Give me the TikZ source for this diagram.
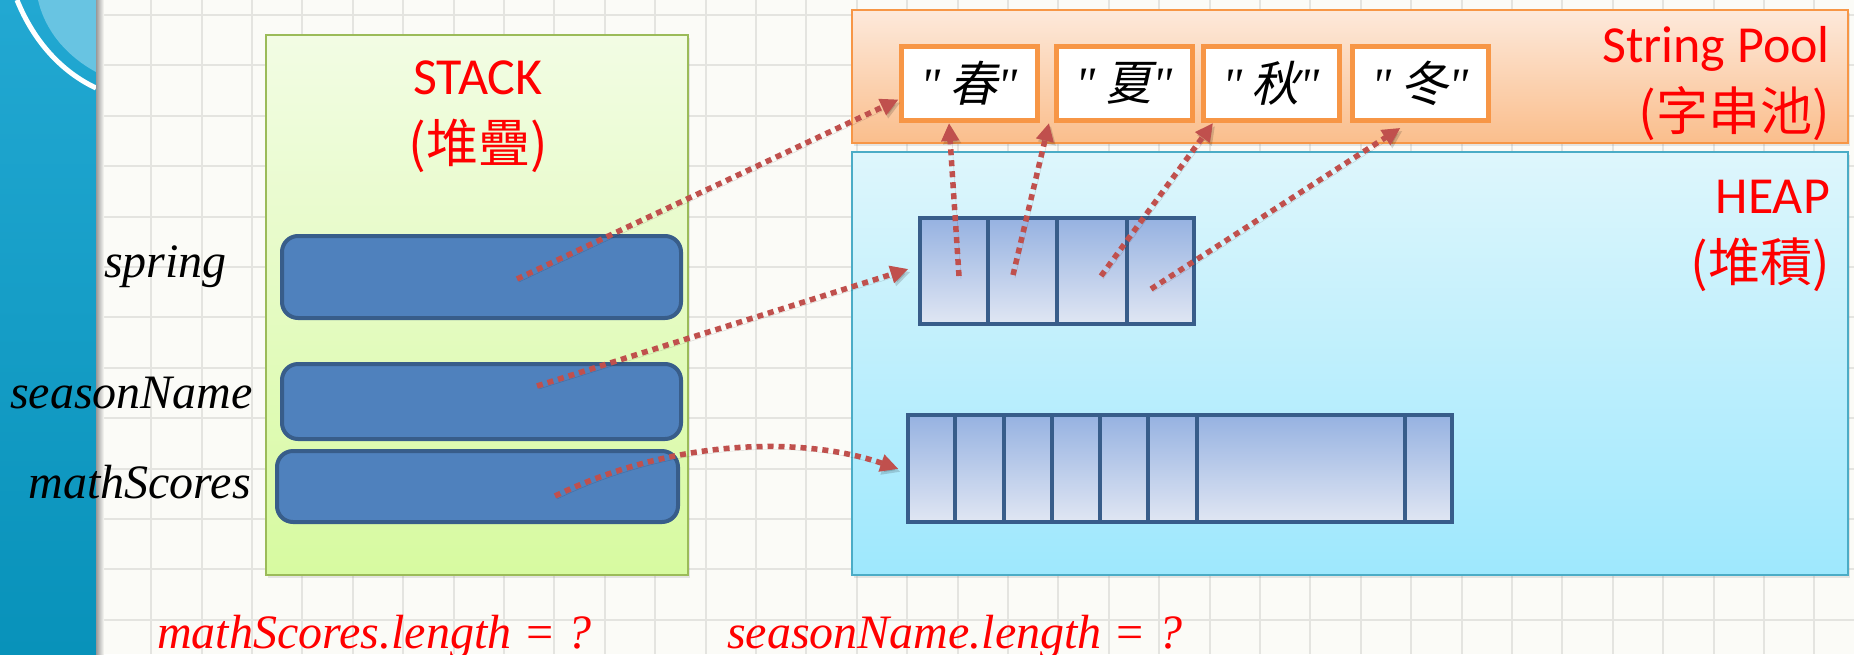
\documentclass[tikz,border=0pt]{standalone}
\usepackage{fontspec}
\setmainfont{Liberation Serif}
\newfontfamily\labelfont{Carlito}
\newfontfamily\quotefont[Ligatures=ResetAll]{Liberation Serif}
\newfontfamily\cjkfont{Noto Sans CJK TC}
\newfontfamily\cjkslant[FakeSlant=0.22]{Noto Sans CJK TC}
\usetikzlibrary{arrows.meta, positioning, shadows}

\definecolor{bandtop}{RGB}{34,168,210}
\definecolor{bandbot}{RGB}{8,146,186}
\definecolor{bandhi}{RGB}{104,196,226}
\definecolor{paper}{RGB}{251,251,247}
\definecolor{gridgray}{RGB}{228,228,224}
\definecolor{stacktop}{RGB}{242,252,228}
\definecolor{stackbot}{RGB}{215,250,160}
\definecolor{stackline}{RGB}{155,187,89}
\definecolor{pooltop}{RGB}{253,233,219}
\definecolor{poolbot}{RGB}{250,190,140}
\definecolor{poolline}{RGB}{247,150,70}
\definecolor{heaptop}{RGB}{222,246,252}
\definecolor{heapbot}{RGB}{158,232,253}
\definecolor{heapline}{RGB}{75,172,198}
\definecolor{slotfill}{RGB}{79,129,189}
\definecolor{slotline}{RGB}{56,93,138}
\definecolor{celltop}{RGB}{150,178,225}
\definecolor{cellbot}{RGB}{224,230,243}
\definecolor{ptrred}{RGB}{192,80,77}

\newcommand{\cjk}[1]{{\cjkfont #1}}
\newcommand{\strtext}[1]{{\quotefont\itshape "\,}{\cjkslant #1}{\quotefont\itshape "}}

\begin{document}
\begin{tikzpicture}[x=1pt, y=-1pt]
    % Define styles
    \tikzstyle{memarea}=[draw, line width=2pt, inner sep=0pt, drop shadow={opacity=0.18, shadow xshift=2pt, shadow yshift=-3pt}]
    \tikzstyle{slotbox}=[draw=slotline, fill=slotfill, line width=4pt, rounded corners=16pt, inner sep=0pt]
    \tikzstyle{strbox}=[draw=poolline, fill=white, line width=5pt, minimum width=136pt, minimum height=74pt, inner sep=0pt, font=\fontsize{48}{48}\selectfont]
    \tikzstyle{arrcells}=[draw=slotline, line width=4pt, top color=celltop, bottom color=cellbot, inner sep=0pt]
    \tikzstyle{boxtitle}=[text=red, font=\labelfont\fontsize{52}{68}\selectfont, inner sep=0pt]
    \tikzstyle{varname}=[font=\itshape\fontsize{48}{48}\selectfont, inner sep=0pt]
    \tikzstyle{notetext}=[text=red, font=\itshape\fontsize{48}{48}\selectfont, inner sep=0pt]
    \tikzstyle{ptrline}=[ptrred, line width=5.5pt, dash pattern=on 6pt off 5pt, -{Triangle[length=18pt, width=17pt]}, preaction={draw=black, opacity=0.15, transform canvas={shift={(2pt,-3pt)}}}]

    \useasboundingbox (0,0) rectangle (1854,654);

    % Paper with grid
    \fill[paper] (0,0) rectangle (1854,654);
    \foreach \i in {2,...,36}
        \draw[gridgray, line width=2pt] (\i*50.4,0) -- (\i*50.4,654);
    \foreach \j in {0,...,12}
        \draw[gridgray, line width=2pt] (96,15+\j*50.4) -- (1854,15+\j*50.4);

    % Side band
    \shade[top color=bandtop, bottom color=bandbot] (0,0) rectangle (96,654);
    \fill[bandhi] (38,0) -- (96,0) -- (96,72) .. controls (70,58) and (46,34) .. (38,0) -- cycle;
    \draw[white, line width=5pt] (17,0) .. controls (34,42) and (62,72) .. (96,88);
    \shade[left color=black!40, right color=paper] (96,0) rectangle (104,654);

    % Stack (base anchor sits on the last line)
    \node[memarea, draw=stackline, top color=stacktop, bottom color=stackbot, minimum width=422pt, minimum height=540pt] (stack) at (477,305) {};
    \node[boxtitle, align=center, anchor=base] (stacklbl) at (478,162) {STACK\\\cjk{(堆疊)}};

    % String pool and heap
    \node[memarea, draw=poolline, top color=pooltop, bottom color=poolbot, minimum width=996pt, minimum height=133pt] (pool) at (1349.5,76.5) {};
    \node[memarea, draw=heapline, top color=heaptop, bottom color=heapbot, minimum width=996pt, minimum height=423pt] (heap) at (1349.5,363.5) {};
    \node[boxtitle, align=right, anchor=base east] (poollbl) at (1830,130) {String Pool\\\cjk{(字串池)}};
    \node[boxtitle, align=right, anchor=base east] (heaplbl) at (1830,281) {HEAP\\\cjk{(堆積)}};

    % Variables on the stack
    \node[slotbox, minimum width=399pt, minimum height=82pt] (spring) at (481.5,277) {};
    \node[slotbox, minimum width=399pt, minimum height=75pt] (season) at (481.5,401.5) {};
    \node[slotbox, minimum width=401pt, minimum height=71pt] (scores) at (477.5,486.5) {};
    \node[varname, anchor=base east] (springlbl) at (227,277) {spring};
    \node[varname, anchor=base east] (seasonlbl) at (253,408) {seasonName};
    \node[varname, anchor=base east] (scoreslbl) at (251,498) {mathScores};

    % Strings in the pool
    \node[strbox] (chun) at (969,83.5) {\strtext{春}};
    \node[strbox] (xia) at (1124,83.5) {\strtext{夏}};
    \node[strbox] (qiu) at (1271,83.5) {\strtext{秋}};
    \node[strbox] (dong) at (1420,83.5) {\strtext{冬}};

    % String array (4 cells)
    \node[arrcells, minimum width=274pt, minimum height=106pt] (arrA) at (1057,271) {};
    \foreach \x in {1,2,3} {
        \draw[slotline, line width=4pt] ([xshift=\x*69.5pt]arrA.north west) -- ([xshift=\x*69.5pt]arrA.south west);
    }

    % int array
    \node[arrcells, minimum width=544pt, minimum height=107pt] (arrB) at (1180,468.5) {};
    \foreach \x in {49,98,146,194,242,291,499} {
        \draw[slotline, line width=4pt] ([xshift=\x pt]arrB.north west) -- ([xshift=\x pt]arrB.south west);
    }

    % References
    \coordinate (pSpring) at (517,279);
    \coordinate (pSeason) at (537,386);
    \coordinate (pScores) at (555,496);
    \coordinate (cA) at (959,276);
    \coordinate (cB) at (1013,275);
    \coordinate (cC) at (1101,276);
    \coordinate (cD) at (1151,289);
    \draw[ptrline] (pSpring) -- ([yshift=-16pt]chun.west);
    \draw[ptrline, shorten >=10pt] (pSeason) -- ([yshift=5pt]arrA.west);
    \draw[ptrline, shorten >=8pt] (pScores) .. controls (670,440) and (800,435) .. ([yshift=-3pt]arrB.west);
    \draw[ptrline] (cA) -- ([xshift=-20pt]chun.south);
    \draw[ptrline] (cB) -- ([xshift=-75pt]xia.south);
    \draw[ptrline] (cC) -- ([xshift=-58pt]qiu.south);
    \draw[ptrline, shorten >=9pt] (cD) -- ([xshift=-12pt]dong.south);

    % Questions
    \node[notetext, anchor=base west] (lenScores) at (157,648) {mathScores.length = ?};
    \node[notetext, anchor=base west] (lenSeason) at (727,648) {seasonName.length = ?};
\end{tikzpicture}
\end{document}
